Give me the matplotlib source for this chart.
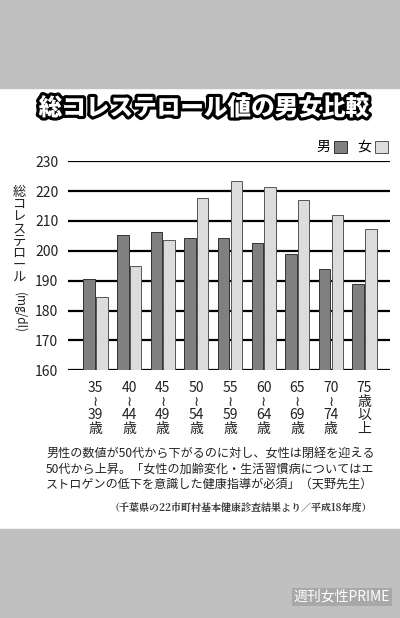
import matplotlib.pyplot as plt
import matplotlib.patheffects as pe
from matplotlib.patches import Rectangle

plt.rcParams['font.family'] = ['Noto Sans CJK JP', 'DejaVu Sans']

age_labels = ["35\n≀\n39\n歳", "40\n≀\n44\n歳", "45\n≀\n49\n歳", "50\n≀\n54\n歳", "55\n≀\n59\n歳",
              "60\n≀\n64\n歳", "65\n≀\n69\n歳", "70\n≀\n74\n歳", "75\n歳\n以\n上"]
men = [190.4, 205.2, 206.3, 204.3, 204.3, 202.6, 198.8, 194.0, 188.8]
women = [184.4, 195.0, 203.7, 217.6, 223.5, 221.3, 216.9, 212.0, 207.3]
yticks = [160, 170, 180, 190, 200, 210, 220, 230]

fig = plt.figure(figsize=(4.0, 6.18), dpi=100)
fig.patch.set_facecolor('white')
# gray bands top and bottom
fig.patches.append(Rectangle((0, 1 - 88 / 618), 1, 88 / 618, transform=fig.transFigure, color='#c0c0c0', zorder=0))
fig.patches.append(Rectangle((0, 0), 1, 89 / 618, transform=fig.transFigure, color='#c0c0c0', zorder=0))

ax = fig.add_axes([0.17, 0.401, 0.805, 0.338])
x = list(range(len(men)))
w = 0.34
ax.bar([i - w / 2 - 0.02 for i in x], [m - 160 for m in men], w, bottom=160,
       color='#808080', edgecolor='#333333', linewidth=0.7, zorder=3)
ax.bar([i + w / 2 + 0.02 for i in x], [f - 160 for f in women], w, bottom=160,
       color='#dcdcdc', edgecolor='#555555', linewidth=0.7, zorder=3)
ax.set_xlim(-0.82, 8.76)
ax.set_ylim(160, 230)
ax.set_yticks(yticks)
ax.set_yticklabels([str(t) for t in yticks], fontsize=10, color='#222222')
ax.yaxis.grid(True, color='black', linewidth=1.6, zorder=0)
for s in ['top', 'right', 'left', 'bottom']:
    ax.spines[s].set_visible(False)
ax.tick_params(axis='y', length=0, pad=7)
ax.set_xticks(x)
ax.set_xticklabels(age_labels, fontsize=10, linespacing=0.95, color='#222222')
ax.tick_params(axis='x', length=0, pad=8)

# title
fig.text(0.51, 1 - 108 / 618, "総コレステロール値の男女比較", ha='center', va='center',
         fontsize=17, fontweight='heavy', color='white',
         path_effects=[pe.withStroke(linewidth=4.5, foreground='black')])

# vertical y label
fig.text(0.048, 1 - 186 / 618, "\n".join("総コレステロール"), ha='center', va='top',
         fontsize=9.5, linespacing=0.92, color='#222222')
fig.text(0.048, 1 - 312 / 618, "(mg/dl)", ha='center', va='center', rotation=270,
         fontsize=8.5, color='#222222')

# legend
fig.text(0.808, 1 - 147 / 618, "男", ha='center', va='center', fontsize=10)
fig.patches.append(Rectangle((0.835, 1 - 153 / 618), 0.032, 12 / 618, transform=fig.transFigure,
                             facecolor='#808080', edgecolor='#333333', linewidth=0.7))
fig.text(0.91, 1 - 147 / 618, "女", ha='center', va='center', fontsize=10)
fig.patches.append(Rectangle((0.938, 1 - 153 / 618), 0.032, 12 / 618, transform=fig.transFigure,
                             facecolor='#dcdcdc', edgecolor='#555555', linewidth=0.7))

note = ("男性の数値が50代から下がるのに対し、女性は閉経を迎える\n"
        "50代から上昇。「女性の加齢変化・生活習慣病についてはエ\n"
        "ストロゲンの低下を意識した健康指導が必須」（天野先生）")
fig.text(0.115, 1 - 447 / 618, note, ha='left', va='top', fontsize=8.7, linespacing=1.25, color='#222222')
fig.text(0.93, 1 - 508 / 618, "（千葉県の22市町村基本健康診査結果より／平成18年度）", ha='right', va='center',
         fontsize=7.2, fontweight='bold', family=['Noto Serif CJK JP', 'Noto Sans CJK JP', 'DejaVu Serif'],
         color='#333333')

fig.text(0.975, 1 - 597 / 618, "週刊女性PRIME", ha='right', va='center', fontsize=10, color='white',
         bbox=dict(facecolor='#a8a8a8', edgecolor='none', pad=1.5))

fig.savefig("out.png", dpi=100)
